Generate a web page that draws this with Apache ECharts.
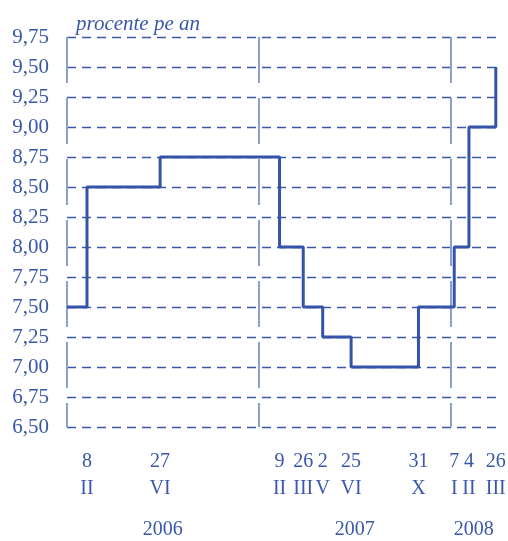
<!DOCTYPE html>
<html><head><meta charset="utf-8">
<script src="https://cdn.jsdelivr.net/npm/echarts@6/dist/echarts.min.js"></script>
<style>html,body{margin:0;padding:0;background:#fff}#c{width:508px;height:541px}</style>
</head><body><div id="c"></div>
<script>
// Step dates (rate effective from) and values
const stepDates = ['2006-01-01','2006-02-08','2006-06-27','2007-02-09','2007-03-26','2007-05-02','2007-06-25','2007-10-31','2008-01-07','2008-02-04','2008-03-26'];
const rateValues = [7.50, 8.50, 8.75, 8.00, 7.50, 7.25, 7.00, 7.50, 8.00, 9.00, 9.50];
// Tick labels
const tickDates = ['2006-02-08','2006-06-27','2007-02-09','2007-03-26','2007-05-02','2007-06-25','2007-10-31','2008-01-07','2008-02-04','2008-03-26'];
const tickDays = ['8','27','9','26','2','25','31','7','4','26'];
const tickMonths = ['II','VI','II','III','V','VI','X','I','II','III'];
const yearLabels = ['2006','2007','2008'];
const yearPositions = ['2006-07-02','2007-07-02','2008-02-13'];
const yearBounds = ['2006-01-01','2007-01-01','2008-01-01'];
const yMin = 6.5, yMax = 9.75, yStep = 0.25;
const xMin = '2006-01-01', xMax = '2008-04-03';

const C = '#3a58a8';
const font = 'Liberation Serif';
const DAY = 86400000;
// day number since xMin
const dn = d => Math.round((new Date(d + 'T00:00:00Z').getTime() - new Date(xMin + 'T00:00:00Z').getTime()) / DAY);
const tickMap = {};
tickDates.forEach((d,i)=>{ tickMap[dn(d)] = tickDays[i] + '\n' + tickMonths[i]; });
const yearMap = {};
yearPositions.forEach((d,i)=>{ yearMap[dn(d)] = yearLabels[i]; });

const chart = echarts.init(document.getElementById('c'), null, {renderer:'canvas'});
chart.setOption({
  animation: false,
  title: { text: 'procente pe an', left: 71, top: 9,
    textStyle: { fontFamily: font, fontStyle: 'italic', fontWeight: 'normal', fontSize: 21, color: C } },
  grid: { left: 67, right: 8, top: 37, bottom: 114, containLabel: false, outerBoundsMode: 'none' },
  xAxis: [{
    type: 'value', min: 0, max: dn(xMax),
    axisLine: { show: false }, axisTick: { show: false }, splitLine: { show: false },
    axisLabel: { customValues: tickDates.map(dn), hideOverlap: false,
      formatter: v => tickMap[v] || '', fontFamily: font, fontSize: 20, color: C,
      lineHeight: 27, margin: 21 }
  },{
    type: 'value', min: 0, max: dn(xMax), position: 'bottom',
    axisLine: { show: false }, axisTick: { show: false }, splitLine: { show: false },
    axisLabel: { customValues: yearPositions.map(dn), hideOverlap: false,
      formatter: v => yearMap[v] || '', fontFamily: font, fontSize: 20, color: C,
      lineHeight: 20, margin: 93 }
  }],
  yAxis: {
    type: 'value', min: yMin, max: yMax, interval: yStep,
    axisLine: { show: false }, axisTick: { show: false },
    axisLabel: { formatter: v => v.toFixed(2).replace('.', ','), fontFamily: font, fontSize: 21, color: C, margin: 18 },
    splitLine: { show: true, lineStyle: { color: C, width: 1.3, type: [9, 6] } }
  },
  series: [{
    type: 'line', step: 'end', symbol: 'none',
    data: stepDates.map((d,i)=>[dn(d), rateValues[i]]),
    lineStyle: { color: '#3553a8', width: 3 },
    z: 5,
    markLine: {
      silent: true, symbol: 'none', label: { show: false },
      lineStyle: { color: '#8a9fd3', width: 2, type: [46, 15] },
      data: yearBounds.map(d => [{ coord: [dn(d), yMax] }, { coord: [dn(d), yMin] }])
    }
  }]
});
</script></body></html>
